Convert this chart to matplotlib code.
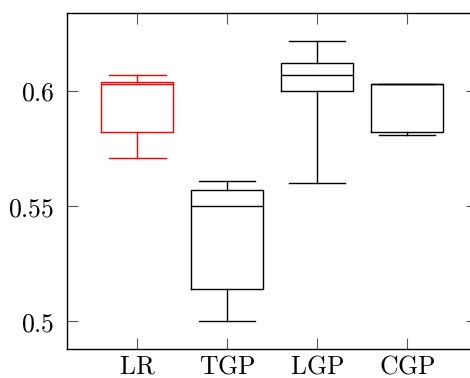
import matplotlib
matplotlib.use("Agg")
import matplotlib.pyplot as plt

categories = ["LR", "TGP", "LGP", "CGP"]
whislo = [0.5709, 0.5000, 0.5600, 0.5810]
q1 = [0.5820, 0.5139, 0.6000, 0.5820]
med = [0.6029, 0.5499, 0.6068, 0.6029]
q3 = [0.6039, 0.5568, 0.6120, 0.6029]
whishi = [0.6068, 0.5609, 0.6219, 0.6029]
colors = ["#ff0000", "black", "black", "black"]
yticks = [0.5, 0.55, 0.6]
yticklabels = ["0.5", "0.55", "0.6"]

plt.rcParams["mathtext.fontset"] = "cm"

fig = plt.figure(figsize=(4.7, 3.78), dpi=100)
ax = fig.add_axes([0.1432, 0.0759, 0.872, 0.8905])

stats = []
for i, c in enumerate(categories):
    stats.append(dict(label=c, whislo=whislo[i], q1=q1[i], med=med[i],
                      q3=q3[i], whishi=whishi[i], fliers=[]))

positions = list(range(1, len(categories) + 1))
for i, s in enumerate(stats):
    col = colors[i]
    ax.bxp([s], positions=[positions[i]], widths=0.8, capwidths=0.63,
           showfliers=False,
           boxprops=dict(color=col, linewidth=1.0),
           medianprops=dict(color=col, linewidth=1.0),
           whiskerprops=dict(color=col, linewidth=1.0),
           capprops=dict(color=col, linewidth=1.0))

ax.set_xlim(0.222, 4.78)
ax.set_ylim(0.4878, 0.634)
ax.set_xticks(positions)
ax.set_xticklabels([r"$\mathrm{%s}$" % c for c in categories], fontsize=18.5)
ax.set_yticks(yticks)
ax.set_yticklabels([r"$%s$" % t for t in yticklabels], fontsize=18.5)
ax.tick_params(direction="in", length=8, width=0.8, color="#555555",
               top=True, right=True)
ax.tick_params(axis="y", pad=9)
ax.tick_params(axis="x", pad=3)
for sp in ax.spines.values():
    sp.set_linewidth(1.0)

fig.savefig("out.png", dpi=100)
